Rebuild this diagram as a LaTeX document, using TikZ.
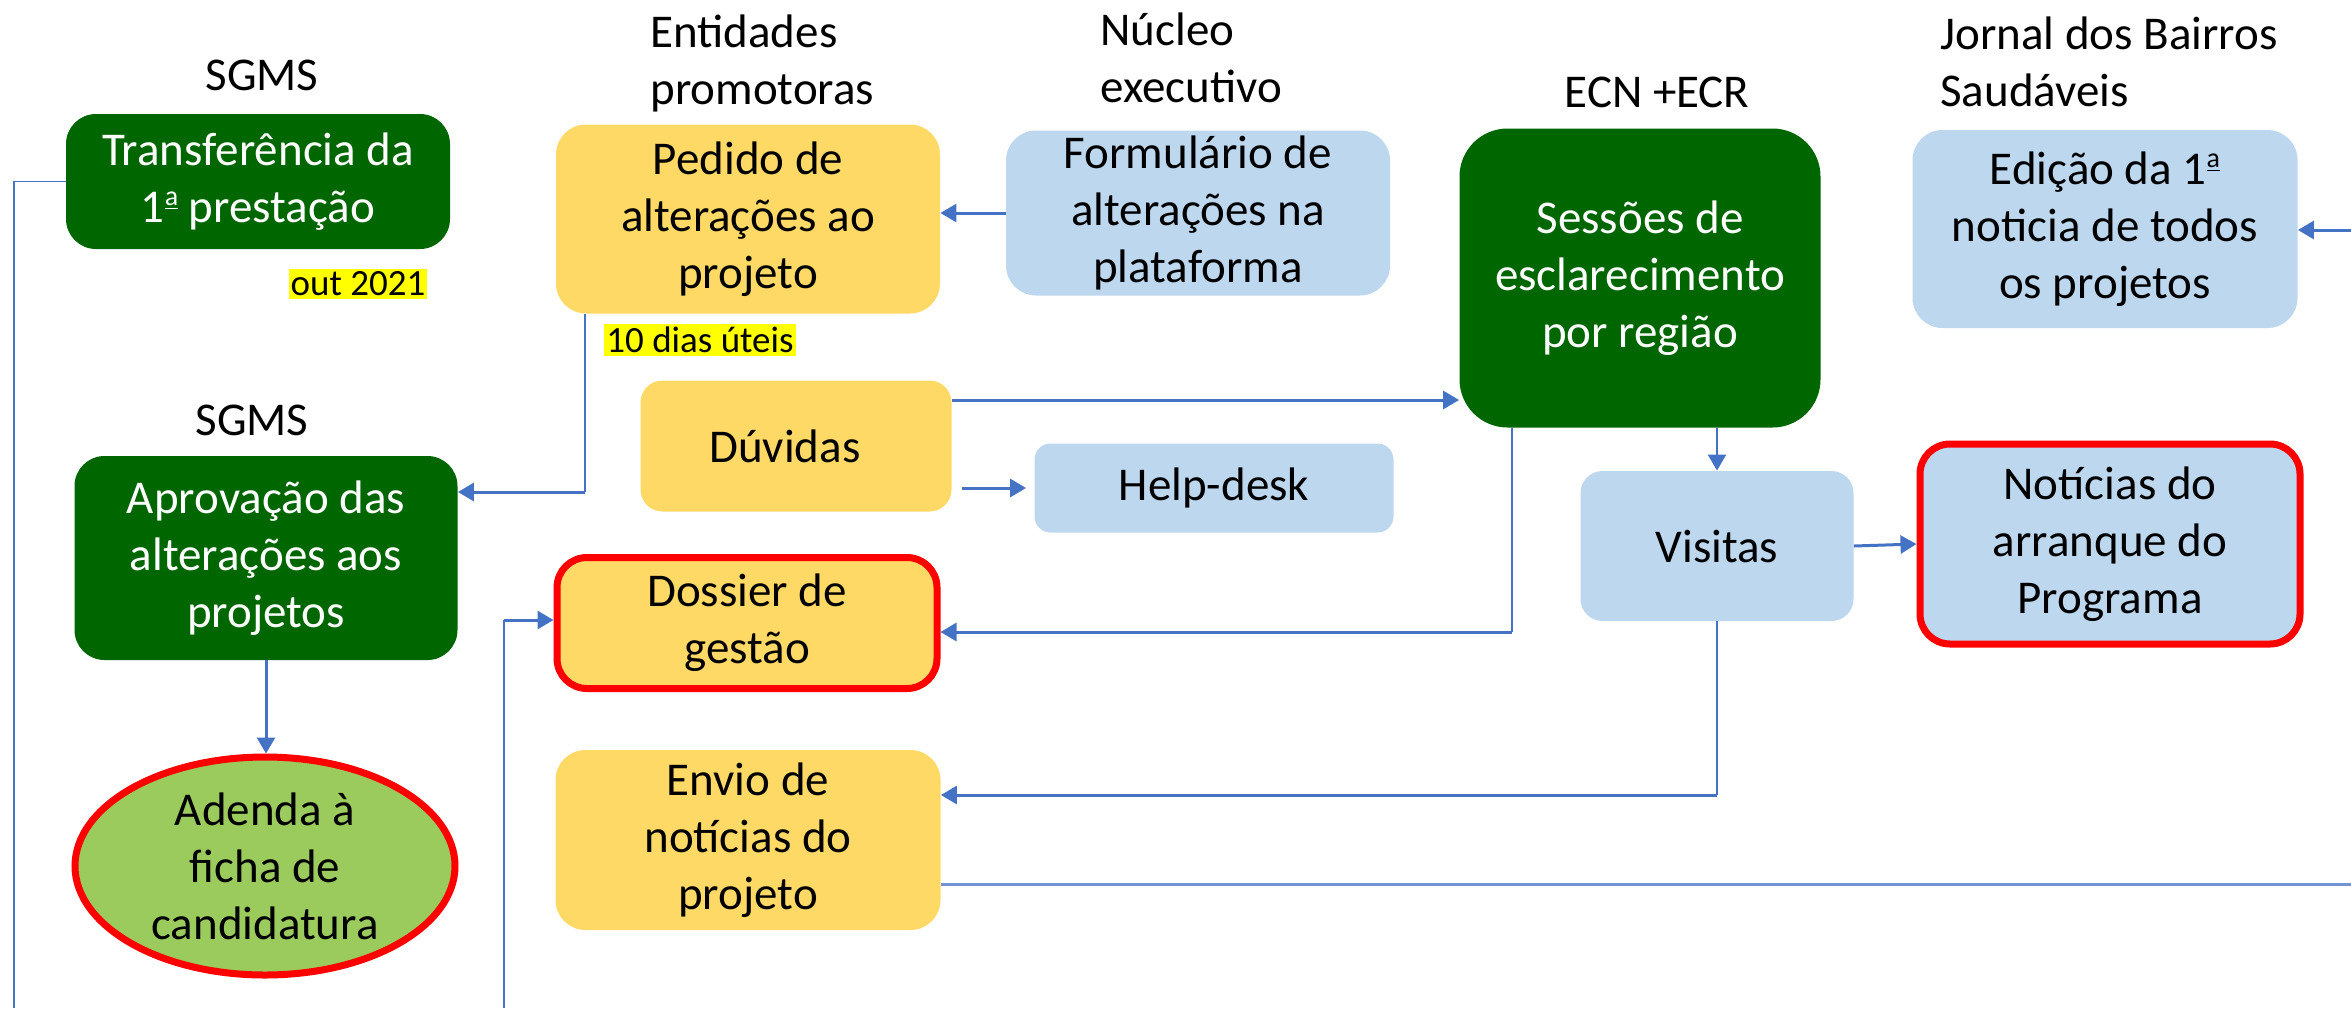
\documentclass[tikz,border=0pt]{standalone}
\usepackage{fontspec}
\setmainfont{Carlito}
\usepackage{tikz}
\usetikzlibrary{positioning, arrows.meta, shapes.geometric}
\definecolor{darkgreen}{RGB}{0,102,0}
\definecolor{boxyellow}{RGB}{255,217,102}
\definecolor{boxblue}{RGB}{189,215,238}
\definecolor{leafgreen}{RGB}{155,203,93}
\definecolor{linkblue}{RGB}{68,114,196}
\definecolor{hlyellow}{RGB}{255,255,0}
\newcommand{\ordA}{\raisebox{0.36em}{\fontsize{14}{14}\selectfont\underline{a}}} % underlined feminine ordinal
\tikzset{
    every node/.style={font=\fontsize{23.5}{28.5}\selectfont, align=center}, % same text size everywhere
    box/.style={rectangle, rounded corners=15pt, inner sep=2pt},
    greenbox/.style={box, fill=darkgreen, text=white},
    yellowbox/.style={box, fill=boxyellow},
    bluebox/.style={box, fill=boxblue},
    keybox/.style={draw=red, line width=3.5pt}, % red frame round the key results
    header/.style={align=left, inner sep=0pt},
    deadline/.style={fill=hlyellow, font=\fontsize{18.5}{20}\selectfont, inner xsep=1pt, inner ysep=1.5pt},
}
\tikzset{link/.style={draw=linkblue, line width=0.75pt},
    arr/.style={draw=linkblue, line width=1.5pt, -{Triangle[length=8pt, width=9pt]}},
}

\begin{document}
\begin{tikzpicture}[x=0.5pt, y=-0.5pt]
        \useasboundingbox (0,0) rectangle (2351,1008);
        % Headers
        \node (sgmsA) at (262,75) {SGMS};
        \node[header, anchor=west] (entidades) at (650,63) {Entidades\\promotoras};
        \node[header, anchor=west] (nucleo) at (1100,58) {Núcleo\\executivo};
        \node (ecn) at (1657,92) {ECN +ECR};
        \node[header, anchor=west] (jornal) at (1940,62) {Jornal dos Bairros\\Saudáveis};
        \node (sgmsB) at (252,420) {SGMS};

        % Nodes
        \node[greenbox, minimum width=192pt, minimum height=67.5pt] (transf) at (258,181.5) {Transferência da\\1\ordA\ prestação};
        \node[deadline] (out) at (358,284) {out 2021};
        \node[yellowbox, minimum width=192pt, minimum height=94.5pt] (pedido) at (748,219) {Pedido de\\alterações ao\\projeto};
        \node[deadline] (dias) at (700,340) {10 dias úteis};
        \node[bluebox, minimum width=192pt, minimum height=82.5pt] (form) at (1198,213) {Formulário de\\alterações na\\plataforma};
        \node[greenbox, rounded corners=24pt, minimum width=180.5pt, minimum height=149.5pt] (sessoes) at (1640,278) {Sessões de\\esclarecimento\\por região};
        \node[bluebox, minimum width=192.5pt, minimum height=99pt] (edicao) at (2105,229) {Edição da 1\ordA\\noticia de todos\\os projetos};
        \node[yellowbox, rounded corners=11pt, minimum width=155.5pt, minimum height=65.5pt] (duvidas) at (796,446) {Dúvidas\hspace*{11pt}};
        \node[bluebox, rounded corners=8pt, minimum width=179.5pt, minimum height=44.5pt] (helpdesk) at (1214,488) {Help-desk};
        \node[greenbox, minimum width=191.5pt, minimum height=102pt] (aprov) at (266,558) {Aprovação das\\alterações aos\\projetos};
        \node[ellipse, keybox, fill=leafgreen, inner sep=0pt, minimum width=190pt, minimum height=109pt] (adenda) at (265,866) {Adenda à\\ficha de\\candidatura};
        \node[yellowbox, keybox, minimum width=190pt, minimum height=65.5pt] (dossier) at (747,623) {Dossier de\\gestão};
        \node[bluebox, rounded corners=11pt, minimum width=136.5pt, minimum height=75pt] (visitas) at (1717,546) {Visitas};
        \node[bluebox, keybox, minimum width=190pt, minimum height=100pt] (noticias) at (2110,544) {Notícias do\\arranque do\\Programa};
        \node[yellowbox, minimum width=192.5pt, minimum height=90pt] (envio) at (748,840) {Envio de\\notícias do\\projeto};

        % Corners and loose ends
        \coordinate (jornalin) at (2351,230);
        \coordinate (bendA) at (585,492);
        \coordinate (dossierin) at (504,1008);
        \coordinate (bendB) at (504,620);
        \coordinate (bendC) at (1512,632);
        \coordinate (bendD) at (1716,795);
        \coordinate (envioout) at (2351,884);
        \coordinate (transfout) at (14,1008);

        % Draw lines
        \draw[arr] (form.west) -- (form.west -| pedido.east);
        \draw[arr] (jornalin) -- (edicao.east |- jornalin);
        \draw[arr] ([yshift=23pt]duvidas.east) -- ([yshift=23pt]duvidas.east -| sessoes.west);
        \draw[arr] ([xshift=5pt]helpdesk.west -| duvidas.east) -- ([xshift=-4pt]helpdesk.west);
        \draw[link] (pedido.south -| bendA) -- (bendA);
        \draw[arr] (bendA) -- (aprov.east |- bendA);
        \draw[arr] (aprov.south) -- (aprov.south |- adenda.north);
        \draw[link] (dossierin) -- (bendB);
        \draw[arr] (bendB) -- (dossier.west |- bendB);
        \draw[link] (sessoes.south -| bendC) -- (bendC);
        \draw[arr] (bendC) -- (dossier.east |- bendC);
        \draw[arr, line width=1pt] (sessoes.south -| visitas.north) -- (visitas.north);
        \draw[arr] (visitas.east) -- (noticias.west);
        \draw[link] (visitas.south) -- (visitas.south |- bendD);
        \draw[arr] (visitas.south |- bendD) -- (envio.east |- bendD);
        \draw[link, line width=1.5pt, draw=linkblue!75] (envio.east |- envioout) -- (envioout);
        \draw[link] (transf.west) -| (transfout);
    \end{tikzpicture}
\end{document}
